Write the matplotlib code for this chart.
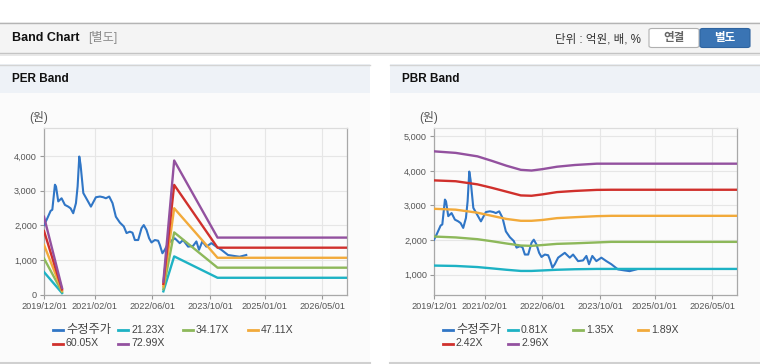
import numpy as np
import pandas as pd
import matplotlib
matplotlib.use('Agg')
import matplotlib.pyplot as plt
from matplotlib.patches import Rectangle, FancyBboxPatch
from matplotlib.lines import Line2D

plt.rcParams['font.family'] = ['Liberation Sans', 'Noto Sans CJK KR']

#------------- DATA -------------
price_dates = ['2019-12-01', '2019-12-23', '2020-01-26', '2020-02-09', '2020-03-02', '2020-03-11',
               '2020-03-30', '2020-04-27', '2020-05-25', '2020-06-22', '2020-07-12', '2020-08-03',
               '2020-08-26', '2020-09-09', '2020-09-23', '2020-10-04', '2020-10-27', '2020-11-29',
               '2020-12-30', '2021-02-10', '2021-03-16', '2021-04-13', '2021-05-05', '2021-06-02',
               '2021-06-30', '2021-07-28', '2021-08-31', '2021-10-03', '2021-10-26', '2021-11-23',
               '2021-12-15', '2022-01-04', '2022-02-01', '2022-03-01', '2022-03-20', '2022-04-12',
               '2022-05-04', '2022-05-24', '2022-06-21', '2022-07-19', '2022-08-02', '2022-08-24',
               '2022-09-13', '2022-10-11', '2022-12-06', '2023-01-17', '2023-02-14', '2023-03-28',
               '2023-05-09', '2023-06-06', '2023-06-28', '2023-07-26', '2023-08-29', '2023-10-10',
               '2023-11-21', '2024-01-02', '2024-02-27', '2024-04-23', '2024-06-04', '2024-07-30']
price_vals = [2010, 2160, 2420, 2450, 3170, 3120,
              2690, 2780, 2590, 2540, 2490, 2350,
              2640, 3120, 3980, 3740, 2930, 2730,
              2540, 2810, 2830, 2810, 2780, 2830,
              2640, 2250, 2080, 1970, 1780, 1820,
              1790, 1580, 1580, 1920, 2010, 1870,
              1630, 1510, 1580, 1560, 1440, 1200,
              1300, 1490, 1630, 1490, 1580, 1390,
              1410, 1540, 1300, 1540, 1390, 1490,
              1390, 1300, 1150, 1120, 1100, 1150]

per_dates = ['2019-12-01', '2020-05-01', '2021-06-01', '2022-09-01', '2022-12-01', '2023-12-01', '2026-11-25']
per_names = ['21.23X', '34.17X', '47.11X', '60.05X', '72.99X']
per_2123 = [660, 55, np.nan, 105, 1110, 495, 495]
per_3417 = [1050, 90, np.nan, 170, 1800, 785, 785]
per_4711 = [1440, 125, np.nan, 245, 2494, 1070, 1070]
per_6005 = [1840, 160, np.nan, 320, 3165, 1360, 1360]
per_7299 = [2250, 200, np.nan, 384, 3866, 1650, 1650]

pbr_dates = ['2019-12-01', '2020-06-01', '2020-12-01', '2021-04-01', '2021-08-01', '2021-12-01',
             '2022-03-01', '2022-06-01', '2022-10-01', '2023-03-01', '2023-09-01', '2024-01-01', '2026-11-25']
pbr_names = ['0.81X', '1.35X', '1.89X', '2.42X', '2.96X']
pbr_081 = [1261, 1250, 1218, 1180, 1140, 1106, 1106, 1120, 1140, 1155, 1164, 1164, 1164]
pbr_135 = [2101, 2075, 2024, 1965, 1900, 1841, 1831, 1855, 1889, 1905, 1930, 1947, 1947]
pbr_189 = [2903, 2878, 2790, 2700, 2610, 2556, 2556, 2580, 2633, 2660, 2690, 2700, 2700]
pbr_242 = [3725, 3700, 3610, 3510, 3400, 3290, 3280, 3320, 3386, 3420, 3450, 3454, 3454]
pbr_296 = [4565, 4520, 4420, 4290, 4150, 4030, 4010, 4050, 4120, 4170, 4208, 4208, 4208]

xtick_dates = ['2019-12-01', '2021-02-01', '2022-06-01', '2023-10-01', '2025-01-01', '2026-05-01']
x_start, x_end = '2019-12-01', '2026-11-25'

price_color = '#3076c6'
band_colors = ['#1db2c4', '#8db85a', '#f2aa3a', '#d0302c', '#93519f']

#------------- FIGURE -------------
W, H = 760, 364
fig = plt.figure(figsize=(W / 100, H / 100), dpi=100)
fig.patch.set_facecolor('white')

def fx(x):
    return x / W

def fy(y):
    return 1 - y / H

def box(x0, y0, x1, y1, color, z=0):
    fig.add_artist(Rectangle((fx(x0), fy(y1)), fx(x1 - x0), (y1 - y0) / H,
                             transform=fig.transFigure, facecolor=color, edgecolor='none', zorder=z))

def hline(x0, x1, y, color, lw=1.0):
    fig.add_artist(Line2D([fx(x0), fx(x1)], [fy(y), fy(y)], transform=fig.transFigure,
                          color=color, lw=lw, zorder=2))

# top header
box(0, 22, 760, 53, '#f4f4f4')
hline(0, 760, 22.5, '#b4b4b4')
hline(0, 760, 53, '#c4c4c4')
hline(0, 760, 54.5, '#e4e4e4', 1.2)
fig.text(fx(12), fy(38), 'Band Chart', fontsize=9, fontweight='bold', va='center', color='#111')
fig.text(fx(88), fy(38), '[별도]', fontsize=8.8, va='center', color='#8a8a8a')
fig.text(fx(641), fy(39), '단위 : 억원, 배, %', fontsize=8.3, va='center', ha='right', color='#333')
fig.add_artist(FancyBboxPatch((fx(649), fy(47.5)), fx(50), 19 / H, boxstyle='round,pad=0,rounding_size=0.004',
                              transform=fig.transFigure, facecolor='white', edgecolor='#b0b0b0', lw=0.8))
fig.add_artist(FancyBboxPatch((fx(700), fy(47.5)), fx(50), 19 / H, boxstyle='round,pad=0,rounding_size=0.004',
                              transform=fig.transFigure, facecolor='#3a74b4', edgecolor='#2f64a0', lw=0.8))
fig.text(fx(674), fy(38.5), '연결', fontsize=8.3, fontweight='bold', ha='center', va='center', color='#666')
fig.text(fx(725), fy(38.5), '별도', fontsize=8.3, fontweight='bold', ha='center', va='center', color='white')

# panels
for px0, px1, title in [(0, 370, 'PER Band'), (390, 760, 'PBR Band')]:
    box(px0, 64, px1, 93, '#eef2f7')
    box(px0, 93, px1, 362, '#fbfbfb')
    hline(px0, px1, 64.5, '#d4d4d4')
    hline(px0, px1, 362.5, '#d0d0d0', 1.5)
    fig.text(fx(px0 + 12), fy(79), title, fontsize=8.5, fontweight='bold', va='center', color='#111')
    fig.text(fx(px0 + 29), fy(117), '(원)', fontsize=8.5, va='center', color='#555')

def draw(ax, band_dates, bands, ylim, yticks):
    ax.set_facecolor('none')
    ax.plot(pd.to_datetime(price_dates), price_vals, color=price_color, lw=1.5, zorder=3)
    for vals, c in zip(bands, band_colors):
        ax.plot(pd.to_datetime(band_dates), vals, color=c, lw=1.7, zorder=4)
    ax.set_xlim(pd.Timestamp(x_start), pd.Timestamp(x_end))
    ax.set_ylim(*ylim)
    ax.set_yticks(yticks)
    ax.set_yticklabels(['{:,}'.format(v) for v in yticks])
    ax.set_xticks(pd.to_datetime(xtick_dates))
    ax.set_xticklabels([d.replace('-', '/') for d in xtick_dates])
    ax.grid(True, color='#e6e6e6', lw=0.8)
    ax.set_axisbelow(True)
    ax.tick_params(axis='both', labelsize=6.6, colors='#999', labelcolor='#555', length=3, width=0.8, pad=2)
    for s in ['left', 'bottom', 'right']:
        ax.spines[s].set_color('#a8a8a8')
    ax.spines['top'].set_color('#dcdcdc')
    for s in ax.spines.values():
        s.set_linewidth(0.9)

ax1 = fig.add_axes([fx(44), fy(295), fx(303), 167 / H])
draw(ax1, per_dates, [per_2123, per_3417, per_4711, per_6005, per_7299],
     (0, 4800), [0, 1000, 2000, 3000, 4000])
ax2 = fig.add_axes([fx(434), fy(295), fx(303), 167 / H])
draw(ax2, pbr_dates, [pbr_081, pbr_135, pbr_189, pbr_242, pbr_296],
     (410, 5240), [1000, 2000, 3000, 4000, 5000])

# legends (fixed-width columns like the original)
for ox, names in [(53, per_names), (443, pbr_names)]:
    labels = ['수정주가'] + names
    colors = [price_color] + band_colors
    for i, (lab, c) in enumerate(zip(labels, colors)):
        col, row = i % 4, i // 4
        lx = ox + col * 65
        ly = 330 + row * 13.5
        fig.add_artist(Line2D([fx(lx), fx(lx + 10)], [fy(ly), fy(ly)], transform=fig.transFigure,
                              color=c, lw=2))
        fs = 8.8 if i == 0 else 7.6
        fig.text(fx(lx + 13), fy(ly), lab, fontsize=fs, va='center', color='#444')

fig.savefig('out.png', dpi=100)
